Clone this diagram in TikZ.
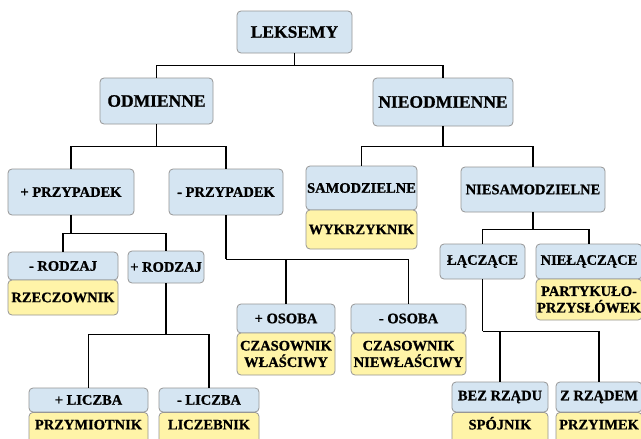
\documentclass[tikz,border=0pt]{standalone}
\usepackage{fontspec}
\setmainfont{Liberation Serif}[BoldFeatures={FakeBold=0.8}]
\definecolor{boxblue}{RGB}{213,229,242}
\definecolor{boxyellow}{RGB}{255,244,168}
\definecolor{boxedge}{RGB}{150,150,150}
\tikzset{
  bbox/.style={draw=boxedge, fill=boxblue, rounded corners=4pt, line width=0.8pt,
    inner sep=0pt, align=center, font=\bfseries\fontsize{14.5}{16.5}\selectfont},
  ybox/.style={bbox, fill=boxyellow},
  ybot/.style={ybox, anchor=north, minimum height=0pt, text height=17pt, text depth=18pt},
  bigbox/.style={bbox, font=\bfseries\fontsize{17.5}{19}\selectfont},
  conn/.style={draw=black, line width=1.2pt}
}
\begin{document}
\begin{tikzpicture}[x=1pt,y=-1pt]
\clip (0,0) rectangle (641,439);
\fill[white] (0,0) rectangle (641,439);
% level 0-1
\node[bigbox, minimum width=115, minimum height=42] (lek) at (294.5,32) {LEKSEMY};
\node[bigbox, minimum width=113, minimum height=46] (odm) at (156.5,101) {ODMIENNE};
\node[bigbox, minimum width=140, minimum height=48] (nie) at (443,102) {NIEODMIENNE};
% level 2
\node[bbox, minimum width=126, minimum height=46] (pp) at (71,192) {+ PRZYPADEK};
\node[bbox, minimum width=114, minimum height=46] (mp) at (226,192) {- PRZYPADEK};
\node[bbox, minimum width=111, minimum height=44] (sam) at (361.5,188) {SAMODZIELNE};
\node[ybox, minimum width=111, minimum height=39] (wyk) at (361.5,229.5) {WYKRZYKNIK};
\node[bbox, minimum width=144, minimum height=45] (nsam) at (533,189.5) {NIESAMODZIELNE};
% level 3
\node[bbox, minimum width=110, minimum height=28] (mrod) at (63,266) {- RODZAJ};
\node[ybox, minimum width=110, minimum height=35] (rzecz) at (63,297.5) {RZECZOWNIK};
\node[bbox, minimum width=76, minimum height=32] (prod) at (166,267) {+ RODZAJ};
\node[bbox, minimum width=85, minimum height=35] (lacz) at (482.5,261.5) {ŁĄCZĄCE};
\node[bbox, minimum width=106, minimum height=35] (nlacz) at (589,261.5) {NIEŁĄCZĄCE};
\node[ybox, minimum width=106, minimum height=41] (party) at (589,299.5) {PARTYKUŁO-\\PRZYSŁÓWEK};
% level 4
\node[bbox, minimum width=98, minimum height=29] (posoba) at (286,318.5) {+ OSOBA};
\node[ybox, minimum width=98, minimum height=42] (cw) at (286,354) {CZASOWNIK\\WŁAŚCIWY};
\node[bbox, minimum width=115, minimum height=29] (mosoba) at (408.5,318.5) {- OSOBA};
\node[ybox, minimum width=115, minimum height=42] (cnw) at (408.5,354) {CZASOWNIK\\NIEWŁAŚCIWY};
% level 5
\node[bbox, minimum width=119, minimum height=24] (plic) at (88.5,400) {+ LICZBA};
\node[ybot, minimum width=119] (przym) at (88.5,412) {PRZYMIOTNIK};
\node[bbox, minimum width=100, minimum height=24] (mlic) at (209,400) {- LICZBA};
\node[ybot, minimum width=100] (liczeb) at (209,412) {LICZEBNIK};
\node[bbox, minimum width=96, minimum height=30] (bez) at (500,397) {BEZ RZĄDU};
\node[ybot, minimum width=96] (spoj) at (500,412) {SPÓJNIK};
\node[bbox, minimum width=86, minimum height=30] (zrz) at (599,397) {Z RZĄDEM};
\node[ybot, minimum width=86] (przyi) at (599,412) {PRZYIMEK};
% connectors
\draw[conn] (lek.south) -- ++(0,12) coordinate (b0);
\draw[conn] (b0) -| (odm.north);
\draw[conn] (b0) -| (nie.north);
\draw[conn] (odm.south) -- ++(0,22) coordinate (b1);
\draw[conn] (b1) -| (pp.north);
\draw[conn] (b1) -| (mp.north);
\draw[conn] (nie.south) -- ++(0,20) coordinate (b2);
\draw[conn] (b2) -| (sam.north);
\draw[conn] (b2) -| (nsam.north);
\draw[conn] (pp.south) -- ++(0,18) coordinate (b3);
\draw[conn] (b3) -| (mrod.north);
\draw[conn] (b3) -| (prod.north);
\draw[conn] (mp.south) -- ++(0,44) coordinate (b4);
\draw[conn] (b4) -| (posoba.north);
\draw[conn] (b4) -| (mosoba.north);
\draw[conn] (prod.south) -- ++(0,51) coordinate (b5);
\draw[conn] (b5) -| (plic.north);
\draw[conn] (b5) -| (mlic.north);
\draw[conn] (nsam.south) -- ++(0,17) coordinate (b6);
\draw[conn] (b6) -| (lacz.north);
\draw[conn] (b6) -| (nlacz.north);
\draw[conn] (lacz.south) -- ++(0,52) coordinate (b7);
\draw[conn] (b7) -| (bez.north);
\draw[conn] (b7) -| (zrz.north);
\end{tikzpicture}
\end{document}
